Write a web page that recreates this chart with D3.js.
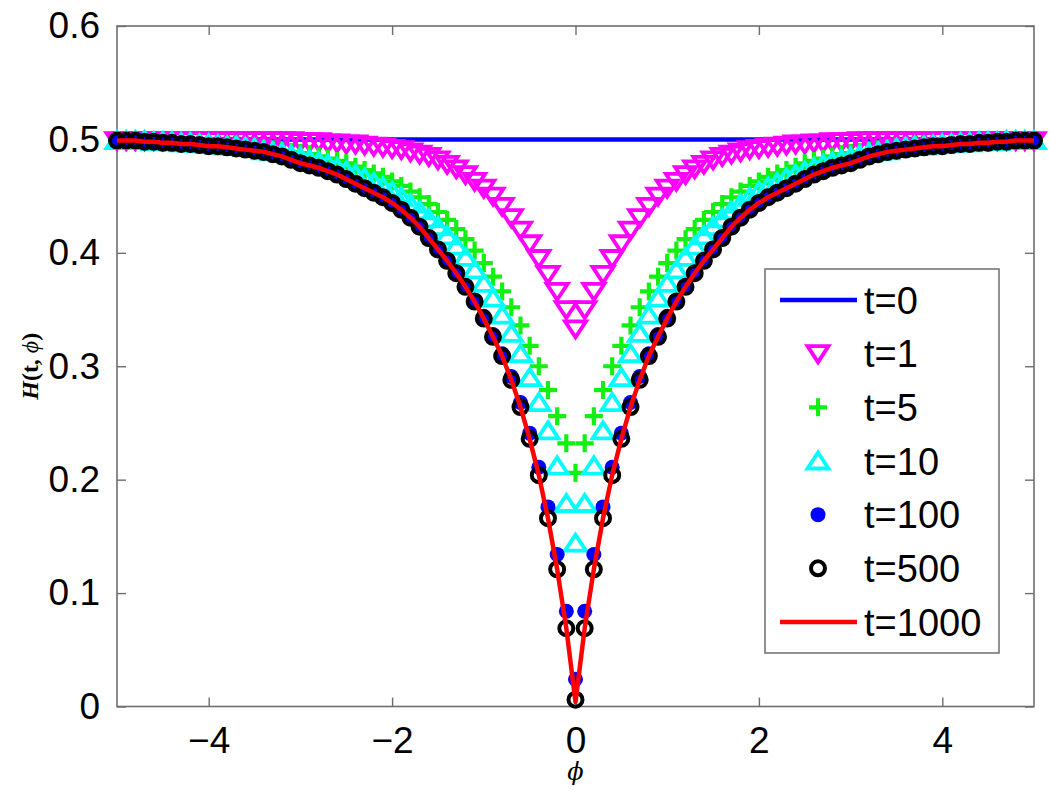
<!DOCTYPE html>
<html>
<head>
<meta charset="utf-8">
<script src="https://cdn.jsdelivr.net/npm/d3@7"></script>
<style>
  body { margin: 0; background: #fff; }
  svg { display: block; }
</style>
</head>
<body>
<div id="chart"></div>
<script>
// phi grid (x values of every marker)
const phi = [
  -5.0,-4.9,-4.8,-4.7,-4.6,-4.5,-4.4,-4.3,-4.2,-4.1,
  -4.0,-3.9,-3.8,-3.7,-3.6,-3.5,-3.4,-3.3,-3.2,-3.1,
  -3.0,-2.9,-2.8,-2.7,-2.6,-2.5,-2.4,-2.3,-2.2,-2.1,
  -2.0,-1.9,-1.8,-1.7,-1.6,-1.5,-1.4,-1.3,-1.2,-1.1,
  -1.0,-0.9,-0.8,-0.7,-0.6,-0.5,-0.4,-0.3,-0.2,-0.1,
  0.0,
  0.1,0.2,0.3,0.4,0.5,0.6,0.7,0.8,0.9,1.0,
  1.1,1.2,1.3,1.4,1.5,1.6,1.7,1.8,1.9,2.0,
  2.1,2.2,2.3,2.4,2.5,2.6,2.7,2.8,2.9,3.0,
  3.1,3.2,3.3,3.4,3.5,3.6,3.7,3.8,3.9,4.0,
  4.1,4.2,4.3,4.4,4.5,4.6,4.7,4.8,4.9,5.0
];

// t=0 is flat
const phiT0 = [-5, 5];
const hT0 = [0.5, 0.5];

const hT1 = [
  .499,.499,.499,.499,.499,.499,.499,.499,.499,.499,
  .499,.499,.499,.499,.499,.499,.499,.499,.499,.499,
  .498,.498,.498,.497,.497,.496,.496,.495,.494,.493,
  .492,.491,.489,.487,.485,.482,.478,.474,.469,.463,
  .457,.450,.441,.431,.420,.408,.395,.381,.366,.350,
  .333,
  .350,.366,.381,.395,.408,.420,.431,.441,.450,.457,
  .463,.469,.474,.478,.482,.485,.487,.489,.491,.492,
  .493,.494,.495,.496,.496,.497,.497,.498,.498,.498,
  .499,.499,.499,.499,.499,.499,.499,.499,.499,.499,
  .499,.499,.499,.499,.499,.499,.499,.499,.499,.499
];

const hT5 = [
  .499,.499,.499,.499,.498,.498,.498,.497,.497,.497,
  .496,.496,.495,.495,.494,.493,.492,.491,.490,.489,
  .488,.487,.485,.483,.481,.479,.476,.473,.470,.467,
  .463,.459,.454,.449,.443,.436,.429,.421,.412,.402,
  .391,.379,.366,.352,.336,.318,.300,.279,.256,.232,
  .206,
  .232,.256,.279,.300,.318,.336,.352,.366,.379,.391,
  .402,.412,.421,.429,.436,.443,.449,.454,.459,.463,
  .467,.470,.473,.476,.479,.481,.483,.485,.487,.488,
  .489,.490,.491,.492,.493,.494,.495,.495,.496,.496,
  .497,.497,.497,.498,.498,.498,.499,.499,.499,.499
];

const hT10 = [
  .499,.499,.499,.499,.498,.498,.498,.497,.497,.496,
  .496,.495,.494,.494,.493,.492,.490,.489,.488,.486,
  .484,.482,.480,.478,.475,.472,.469,.466,.462,.458,
  .454,.449,.443,.437,.430,.423,.415,.406,.396,.385,
  .373,.360,.345,.329,.311,.290,.268,.243,.212,.179,
  .144,
  .179,.212,.243,.268,.290,.311,.329,.345,.360,.373,
  .385,.396,.406,.415,.423,.430,.437,.443,.449,.454,
  .458,.462,.466,.469,.472,.475,.478,.480,.482,.484,
  .486,.488,.489,.490,.492,.493,.494,.494,.495,.496,
  .496,.497,.497,.498,.498,.498,.499,.499,.499,.499
];

const hT100 = [
  .499,.499,.499,.498,.498,.497,.497,.496,.496,.495,
  .494,.494,.493,.492,.491,.490,.489,.487,.485,.482,
  .479,.477,.475,.472,.469,.465,.461,.457,.453,.449,
  .444,.438,.431,.423,.414,.404,.394,.383,.371,.358,
  .344,.328,.311,.291,.268,.241,.211,.176,.134,.084,
  .024,
  .084,.134,.176,.211,.241,.268,.291,.311,.328,.344,
  .358,.371,.383,.394,.404,.414,.423,.431,.438,.444,
  .449,.453,.457,.461,.465,.469,.472,.475,.477,.479,
  .482,.485,.487,.489,.490,.491,.492,.493,.494,.494,
  .495,.496,.496,.497,.497,.498,.498,.499,.499,.499
];

const hT500 = [
  .499,.499,.499,.498,.498,.497,.497,.496,.496,.495,
  .494,.494,.493,.492,.491,.490,.489,.487,.485,.482,
  .479,.477,.475,.472,.469,.465,.461,.457,.453,.449,
  .444,.438,.431,.423,.413,.403,.393,.382,.370,.357,
  .342,.326,.309,.288,.264,.236,.204,.166,.121,.069,
  .006,
  .069,.121,.166,.204,.236,.264,.288,.309,.326,.342,
  .357,.370,.382,.393,.403,.413,.423,.431,.438,.444,
  .449,.453,.457,.461,.465,.469,.472,.475,.477,.479,
  .482,.485,.487,.489,.490,.491,.492,.493,.494,.494,
  .495,.496,.496,.497,.497,.498,.498,.499,.499,.499
];

const hT1000 = [
  .499,.499,.499,.498,.498,.497,.497,.496,.496,.495,
  .494,.494,.493,.492,.491,.490,.489,.487,.485,.482,
  .479,.477,.475,.472,.469,.465,.461,.457,.453,.449,
  .444,.438,.431,.423,.413,.403,.393,.382,.370,.357,
  .342,.326,.309,.288,.264,.236,.204,.166,.121,.069,
  .004,
  .069,.121,.166,.204,.236,.264,.288,.309,.326,.342,
  .357,.370,.382,.393,.403,.413,.423,.431,.438,.444,
  .449,.453,.457,.461,.465,.469,.472,.475,.477,.479,
  .482,.485,.487,.489,.490,.491,.492,.493,.494,.494,
  .495,.496,.496,.497,.497,.498,.498,.499,.499,.499
];

const legendLabels = ["t=0", "t=1", "t=5", "t=10", "t=100", "t=500", "t=1000"];
const xTicks = [-4, -2, 0, 2, 4];
const yTicks = [0, 0.1, 0.2, 0.3, 0.4, 0.5, 0.6];

/**
 * LAYOUT
 * */
const width = 1050, height = 798;
const margin = { top: 26, right: 16, bottom: 91.5, left: 117 };
const innerW = width - margin.left - margin.right;
const innerH = height - margin.top - margin.bottom;
const axisColor = "#6e6e6e";
const tickFont = "'Liberation Sans', Arial, Helvetica, sans-serif";

const svg = d3.select("#chart").append("svg")
  .attr("width", width)
  .attr("height", height);

const x = d3.scaleLinear().domain([-5, 5]).range([margin.left, margin.left + innerW]);
const y = d3.scaleLinear().domain([0, 0.6]).range([margin.top + innerH, margin.top]);

// frame
svg.append("rect")
  .attr("x", x(-5)).attr("y", y(0.6))
  .attr("width", x(5) - x(-5)).attr("height", y(0) - y(0.6))
  .attr("fill", "none").attr("stroke", axisColor).attr("stroke-width", 1.6);

// axes with inward ticks on all sides
const tickLen = 9;
function styleAxis(g) {
  g.select(".domain").remove();
  g.selectAll(".tick line").attr("stroke", axisColor).attr("stroke-width", 1.4);
  g.selectAll(".tick text")
    .attr("fill", "#000")
    .style("font-family", tickFont)
    .style("font-size", "37px");
}

svg.append("g")
  .attr("transform", `translate(0,${y(0)})`)
  .call(d3.axisBottom(x).tickValues(xTicks).tickSize(-tickLen).tickPadding(20)
    .tickFormat(d => d < 0 ? "\u2212" + Math.abs(d) : d))
  .call(styleAxis);

svg.append("g")
  .attr("transform", `translate(0,${y(0.6)})`)
  .call(d3.axisTop(x).tickValues(xTicks).tickSize(-tickLen).tickFormat(""))
  .call(styleAxis);

svg.append("g")
  .attr("transform", `translate(${x(-5)},0)`)
  .call(d3.axisLeft(y).tickValues(yTicks).tickSize(-tickLen).tickPadding(17)
    .tickFormat(d => d === 0 ? "0" : d3.format(".1f")(d)))
  .call(styleAxis);

svg.append("g")
  .attr("transform", `translate(${x(5)},0)`)
  .call(d3.axisRight(y).tickValues(yTicks).tickSize(-tickLen).tickFormat(""))
  .call(styleAxis);

// axis labels
svg.append("text")
  .attr("x", x(0))
  .attr("y", 780)
  .attr("text-anchor", "middle")
  .style("font-family", "'DejaVu Serif', 'Liberation Serif', serif")
  .style("font-style", "italic")
  .style("font-size", "24px")
  .text("\u03d5");

const yLab = svg.append("text")
  .attr("transform", `translate(38,${y(0.3)}) rotate(-90)`)
  .attr("text-anchor", "middle")
  .style("font-family", "'Liberation Serif', 'Times New Roman', serif")
  .style("font-size", "24px")
  .style("font-weight", "bold");
yLab.append("tspan").style("font-style", "italic").text("H");
yLab.append("tspan").text("(t, ");
yLab.append("tspan").style("font-style", "italic").style("font-weight", "normal").text("\u03d5");
yLab.append("tspan").text(")");

/**
 * MARKERS
 * */
const markerPaths = {
  down: "M-10.5,-7.5L10.5,-7.5L0,8.5Z",
  up: "M0,-8.5L10.5,7.5L-10.5,7.5Z",
  plus: "M-9,0H9M0,-9V9"
};

function drawMarker(sel, type, color) {
  if (type === "down" || type === "up") {
    sel.append("path").attr("d", markerPaths[type])
      .attr("fill", "none").attr("stroke", color)
      .attr("stroke-width", 3.8).attr("stroke-linejoin", "miter");
  } else if (type === "plus") {
    sel.append("path").attr("d", markerPaths.plus)
      .attr("fill", "none").attr("stroke", color).attr("stroke-width", 4.2);
  } else if (type === "dot") {
    sel.append("circle").attr("r", 7.5).attr("fill", color);
  } else if (type === "ring") {
    sel.append("circle").attr("r", 7).attr("fill", "none")
      .attr("stroke", color).attr("stroke-width", 4);
  }
}

const line = d3.line().x(d => x(d[0])).y(d => y(d[1]));

const series = [
  { xs: phiT0, ys: hT0, color: "#0000ff", kind: "line" },
  { xs: phi, ys: hT1, color: "#ff00ff", kind: "down" },
  { xs: phi, ys: hT5, color: "#11f011", kind: "plus" },
  { xs: phi, ys: hT10, color: "#00ffff", kind: "up" },
  { xs: phi, ys: hT100, color: "#0000ff", kind: "dot" },
  { xs: phi, ys: hT500, color: "#000000", kind: "ring" },
  { xs: phi, ys: hT1000, color: "#ff0000", kind: "line" }
];

series.forEach(s => {
  const pts = s.xs.map((v, i) => [v, s.ys[i]]);
  if (s.kind === "line") {
    svg.append("path")
      .datum(pts)
      .attr("d", line)
      .attr("fill", "none")
      .attr("stroke", s.color)
      .attr("stroke-width", 4.5)
      .attr("stroke-linejoin", "round");
  } else {
    svg.append("g")
      .selectAll("g")
      .data(pts)
      .join("g")
      .attr("transform", d => `translate(${x(d[0])},${y(d[1])})`)
      .each(function() { drawMarker(d3.select(this), s.kind, s.color); });
  }
});

/**
 * LEGEND
 * */
const lg = svg.append("g");
lg.append("rect")
  .attr("x", 765).attr("y", 269)
  .attr("width", 234).attr("height", 384)
  .attr("fill", "#fff").attr("stroke", axisColor).attr("stroke-width", 1.5);

const rowY = d3.scalePoint().domain(legendLabels).range([300, 622]);

legendLabels.forEach((lab, i) => {
  const s = series[i];
  const cy = rowY(lab);
  if (s.kind === "line") {
    lg.append("line")
      .attr("x1", 780).attr("x2", 857)
      .attr("y1", cy).attr("y2", cy)
      .attr("stroke", s.color).attr("stroke-width", 4.5);
  } else {
    const m = lg.append("g").attr("transform", `translate(818,${cy})`);
    drawMarker(m, s.kind, s.color);
  }
  lg.append("text")
    .attr("x", 864)
    .attr("y", cy)
    .attr("dy", "0.36em")
    .style("font-family", tickFont)
    .style("font-size", "38px")
    .text(lab);
});
</script>
</body>
</html>
